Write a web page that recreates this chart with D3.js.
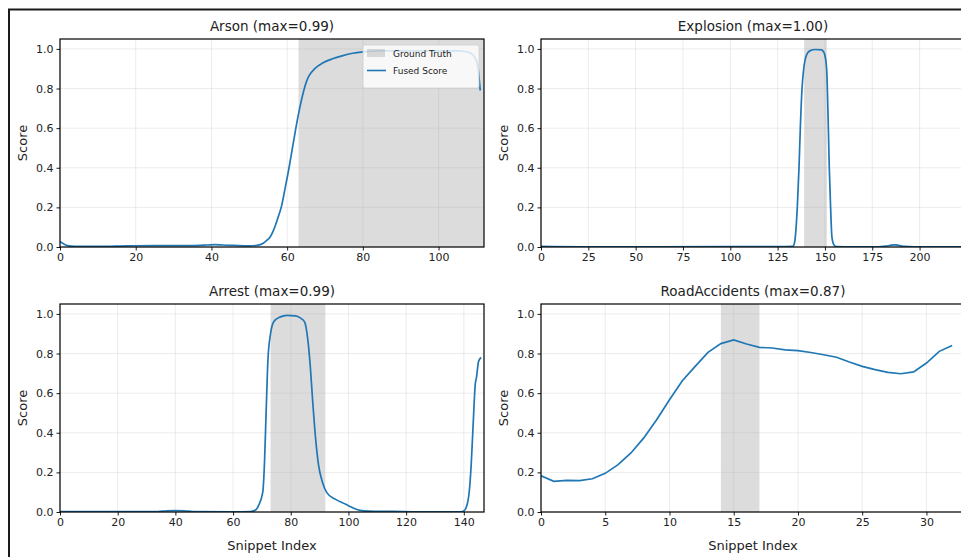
<!DOCTYPE html>
<html>
<head>
<meta charset="utf-8">
<script src="https://cdn.jsdelivr.net/npm/d3@7"></script>
<style>
  body { margin: 0; background: #fff; }
  svg { display: block; font-family: "DejaVu Sans", sans-serif; }
</style>
</head>
<body>
<svg id="chart" width="961" height="557"></svg>
<script>
// Arson
const arsonX = [0, 1, 2, 3, 5, 10, 18, 25, 35, 39, 41, 43, 46, 50, 52, 53.7, 54.6, 55.5, 56.3, 57, 57.7, 58.5, 59.5, 60.5, 61.4, 62.3, 63.3, 64.4, 65.1, 65.8, 67.3, 69.5, 72, 74.5, 77.3, 80, 85, 90, 100, 105, 107, 108.5, 109.5, 110.3, 111];
const arsonY = [0.028, 0.015, 0.007, 0.004, 0.003, 0.003, 0.006, 0.007, 0.007, 0.010, 0.012, 0.010, 0.008, 0.006, 0.008, 0.019, 0.033, 0.05, 0.08, 0.115, 0.155, 0.205, 0.3, 0.4, 0.5, 0.6, 0.7, 0.79, 0.835, 0.865, 0.9, 0.93, 0.95, 0.965, 0.978, 0.985, 0.99, 0.99, 0.99, 0.99, 0.987, 0.978, 0.96, 0.92, 0.79];

// Explosion
const explosionX = [0, 20, 60, 100, 125, 133, 133.9, 135.4, 136.3, 137, 137.9, 138.8, 140.3, 142, 145, 148.2, 149.6, 150.9, 151.8, 152.3, 153, 153.7, 154.8, 156, 165, 178, 182, 185, 187, 189, 192, 197, 210, 223];
const explosionY = [0.003, 0.001, 0.001, 0.002, 0.002, 0.003, 0.02, 0.2, 0.4, 0.6, 0.8, 0.9, 0.97, 0.99, 0.997, 0.995, 0.98, 0.9, 0.6, 0.4, 0.2, 0.05, 0.01, 0.002, 0.001, 0.001, 0.004, 0.009, 0.011, 0.008, 0.003, 0.001, 0.001, 0.001];

// Arrest
const arrestX = [0, 20, 34, 37, 40, 43, 46, 60, 66, 67.8, 68.9, 70.3, 70.9, 71.5, 72.1, 73, 74.1, 76.4, 78.7, 81.6, 83.3, 84.8, 86, 86.8, 87.6, 88.5, 89.6, 91, 92.5, 95.4, 98.9, 101.7, 104, 107, 115, 125, 139, 140, 141.2, 142, 142.6, 143.2, 144, 144.4, 145.1, 146];
const arrestY = [0.002, 0.002, 0.002, 0.006, 0.007, 0.006, 0.002, 0.001, 0.002, 0.01, 0.035, 0.10, 0.25, 0.52, 0.77, 0.90, 0.96, 0.985, 0.993, 0.99, 0.98, 0.96, 0.86, 0.73, 0.56, 0.39, 0.24, 0.15, 0.098, 0.065, 0.04, 0.02, 0.008, 0.004, 0.003, 0.001, 0.001, 0.005, 0.04, 0.12, 0.25, 0.43, 0.65, 0.68, 0.76, 0.78];

// RoadAccidents, one value per snippet
const roadY = [0.183, 0.155, 0.16, 0.158, 0.168, 0.195, 0.239, 0.298, 0.374, 0.466, 0.567, 0.663, 0.735, 0.806, 0.85, 0.869, 0.848, 0.831, 0.828, 0.818, 0.815, 0.805, 0.794, 0.781, 0.757, 0.735, 0.719, 0.705, 0.698, 0.707, 0.752, 0.811, 0.841];
const roadX = roadY.map((d, i) => i);

const titles = ["Arson (max=0.99)", "Explosion (max=1.00)", "Arrest (max=0.99)", "RoadAccidents (max=0.87)"];
const xMaxes = [112, 224, 147, 33];
const gtSpans = [[63, 112], [139, 151], [73, 92], [14, 17]];
const xTicks = [
  [0, 20, 40, 60, 80, 100],
  [0, 25, 50, 75, 100, 125, 150, 175, 200],
  [0, 20, 40, 60, 80, 100, 120, 140],
  [0, 5, 10, 15, 20, 25, 30],
];
const yTicks = [0, 0.2, 0.4, 0.6, 0.8, 1.0];
const seriesX = [arsonX, explosionX, arrestX, roadX];
const seriesY = [arsonY, explosionY, arrestY, roadY];

const BLUE = "#1f77b4";
const svg = d3.select("#chart");

// outer frame
svg.append("rect")
  .attr("x", 9).attr("y", 9.5)
  .attr("width", 1100).attr("height", 700)
  .attr("fill", "none")
  .attr("stroke", "#1a1a1a")
  .attr("stroke-width", 2);

const lefts = [60, 541];
const tops = [39, 304];
const W = 424;
const H = 208;

titles.forEach((title, i) => {
  const x0 = lefts[i % 2];
  const y0 = tops[Math.floor(i / 2)];
  const bottomRow = i >= 2;

  const x = d3.scaleLinear().domain([0, xMaxes[i]]).range([x0, x0 + W]);
  const y = d3.scaleLinear().domain([0, 1.05]).range([y0 + H, y0]);

  const g = svg.append("g");
  const clipId = "clip" + i;
  g.append("clipPath").attr("id", clipId)
    .append("rect").attr("x", x0).attr("y", y0).attr("width", W).attr("height", H);

  // ground truth span
  g.append("rect")
    .attr("x", x(gtSpans[i][0]))
    .attr("y", y0)
    .attr("width", x(gtSpans[i][1]) - x(gtSpans[i][0]))
    .attr("height", H)
    .attr("fill", "#808080")
    .attr("fill-opacity", 0.28)
    .attr("clip-path", `url(#${clipId})`);

  // grid
  g.append("g")
    .selectAll("line.gx")
    .data(xTicks[i])
    .join("line")
    .attr("x1", (d) => x(d)).attr("x2", (d) => x(d))
    .attr("y1", y0).attr("y2", y0 + H)
    .attr("stroke", "#b0b0b0").attr("stroke-opacity", 0.3).attr("stroke-width", 0.8);
  g.append("g")
    .selectAll("line.gy")
    .data(yTicks)
    .join("line")
    .attr("x1", x0).attr("x2", x0 + W)
    .attr("y1", (d) => y(d)).attr("y2", (d) => y(d))
    .attr("stroke", "#b0b0b0").attr("stroke-opacity", 0.3).attr("stroke-width", 0.8);

  // score line
  const pts = seriesX[i].map((v, k) => [v, seriesY[i][k]]);
  const line = d3.line()
    .curve(i === 3 ? d3.curveLinear : d3.curveMonotoneX)
    .x((d) => x(d[0]))
    .y((d) => y(d[1]));
  g.append("path")
    .datum(pts)
    .attr("fill", "none")
    .attr("stroke", BLUE)
    .attr("stroke-width", 1.7)
    .attr("clip-path", `url(#${clipId})`)
    .attr("d", line);

  // axes
  const styleAxis = (a) => {
    a.select(".domain").remove();
    a.selectAll(".tick line").attr("stroke", "#000").attr("stroke-width", 0.9);
    a.selectAll(".tick text").attr("fill", "#222").style("font-size", "11px")
      .style("font-family", "DejaVu Sans, sans-serif");
  };
  g.append("g")
    .attr("transform", `translate(0,${y0 + H})`)
    .call(d3.axisBottom(x).tickValues(xTicks[i]).tickFormat(d3.format("d")).tickSize(3.5).tickPadding(3))
    .call(styleAxis);
  g.append("g")
    .attr("transform", `translate(${x0},0)`)
    .call(d3.axisLeft(y).tickValues(yTicks).tickFormat(d3.format(".1f")).tickSize(3.5).tickPadding(3))
    .call(styleAxis);

  // spines
  g.append("rect")
    .attr("x", x0).attr("y", y0).attr("width", W).attr("height", H)
    .attr("fill", "none").attr("stroke", "#000").attr("stroke-width", 1.2);

  // title + labels
  g.append("text")
    .attr("x", x0 + W / 2).attr("y", y0 - 8)
    .attr("text-anchor", "middle")
    .attr("fill", "#222")
    .style("font-size", "13.5px")
    .text(title);
  g.append("text")
    .attr("transform", `translate(${x0 - 33},${y0 + H / 2}) rotate(-90)`)
    .attr("text-anchor", "middle")
    .attr("fill", "#222")
    .style("font-size", "13px")
    .text("Score");
  if (bottomRow) {
    g.append("text")
      .attr("x", x0 + W / 2).attr("y", y0 + H + 38)
      .attr("text-anchor", "middle")
      .attr("fill", "#222")
      .style("font-size", "13px")
      .text("Snippet Index");
  }

  // legend only on first panel
  if (i === 0) {
    const lg = g.append("g").attr("transform", `translate(${x0 + W - 121},${y0 + 6})`);
    lg.append("rect")
      .attr("width", 116).attr("height", 43).attr("rx", 2)
      .attr("fill", "#fff").attr("fill-opacity", 0.8)
      .attr("stroke", "#d0d0d0").attr("stroke-width", 0.8);
    lg.append("rect")
      .attr("x", 4).attr("y", 4).attr("width", 18).attr("height", 8)
      .attr("fill", "#808080").attr("fill-opacity", 0.28);
    lg.append("line")
      .attr("x1", 4).attr("x2", 23).attr("y1", 25.5).attr("y2", 25.5)
      .attr("stroke", BLUE).attr("stroke-width", 1.6);
    lg.append("text").attr("x", 30).attr("y", 11.5)
      .attr("fill", "#222").style("font-size", "9px").text("Ground Truth");
    lg.append("text").attr("x", 30).attr("y", 28.5)
      .attr("fill", "#222").style("font-size", "9px").text("Fused Score");
  }
});
</script>
</body>
</html>
